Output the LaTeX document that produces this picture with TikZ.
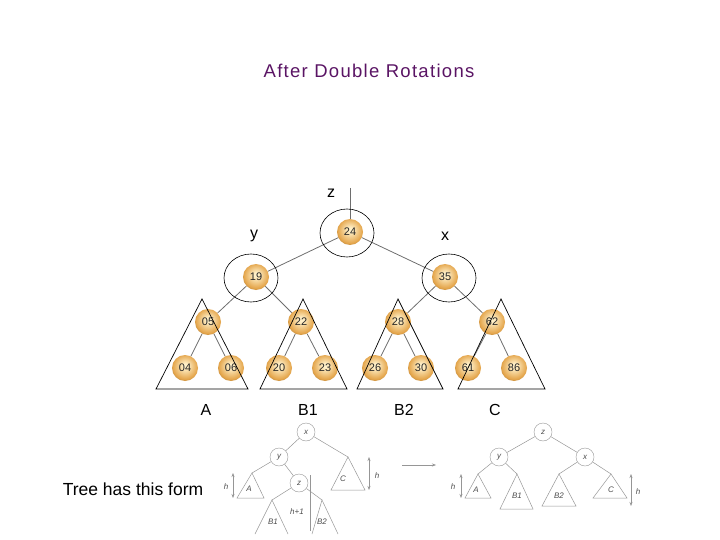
\documentclass[tikz,border=0pt]{standalone}
\usepackage{fontspec}
\setmainfont{Liberation Sans}
\usetikzlibrary{arrows.meta}
\definecolor{titlepurple}{RGB}{90,20,100}
\definecolor{gold}{RGB}{228,165,75}
\definecolor{paleball}{RGB}{255,240,200}
\definecolor{edgegray}{RGB}{110,110,110}
\definecolor{sketchgray}{RGB}{150,150,150}
\pgfdeclareradialshading{goldball}{\pgfpoint{0bp}{5bp}}{%
  color(0bp)=(paleball); color(4bp)=(paleball); color(15bp)=(gold!55!paleball);
  color(24bp)=(gold); color(28bp)=(gold!85!black); color(50bp)=(gold!85!black)}

\tikzset{
  ball/.style={circle, minimum size=26pt, inner sep=0pt, shading=goldball,
    font=\fontsize{11}{11}\selectfont, text=black!85},
  tedge/.style={draw=edgegray, line width=0.8pt},
  ring/.style={draw=black, line width=0.6pt},
  tri/.style={draw=black, line width=0.7pt},
  lbl/.style={font=\fontsize{16}{16}\selectfont},
  snode/.style={circle, draw=sketchgray, minimum size=18pt, inner sep=0pt,
    font=\rmfamily\itshape\fontsize{8}{8}\selectfont, text=black!70},
  sline/.style={draw=sketchgray, line width=0.5pt},
  stext/.style={font=\rmfamily\itshape\fontsize{8}{8}\selectfont, text=black!70},
  harrow/.style={draw=sketchgray, line width=0.5pt, {Stealth[length=4pt,width=3pt]}-{Stealth[length=4pt,width=3pt]}}
}

\begin{document}
\begin{tikzpicture}[x=1pt,y=-1pt]
\useasboundingbox (0,0) rectangle (720,540);

% title
\node[text=titlepurple, font=\fontsize{18.5}{18.5}\selectfont\addfontfeature{LetterSpace=7}] (title) at (369,71) {After Double Rotations};

% main tree
\node[ball] (n24) at (350,232) {24};
\node[ball] (n19) at (256,277) {19};
\node[ball] (n35) at (445,277) {35};
\node[ball] (n05) at (208,322) {05};
\node[ball] (n22) at (301,322) {22};
\node[ball] (n28) at (398,322) {28};
\node[ball] (n62) at (492,322) {62};
\node[ball] (n04) at (185,368) {04};
\node[ball] (n06) at (231,368) {06};
\node[ball] (n20) at (279,368) {20};
\node[ball] (n23) at (325,368) {23};
\node[ball] (n26) at (375,368) {26};
\node[ball] (n30) at (421,368) {30};
\node[ball] (n61) at (468,368) {61};
\node[ball] (n86) at (514,368) {86};
\coordinate (ztop) at (350,188);

\draw[tedge] (ztop) -- (n24);
\draw[tedge] (n24) -- (n19);
\draw[tedge] (n24) -- (n35);
\draw[tedge] (n19) -- (n05);
\draw[tedge] (n19) -- (n22);
\draw[tedge] (n35) -- (n28);
\draw[tedge] (n35) -- (n62);
\draw[tedge] (n05) -- (n04);
\draw[tedge] (n05) -- (n06);
\draw[tedge] (n22) -- (n20);
\draw[tedge] (n22) -- (n23);
\draw[tedge] (n28) -- (n26);
\draw[tedge] (n28) -- (n30);
\draw[tedge] (n62) -- (n61);
\draw[tedge] (n62) -- (n86);

% rings round z, y, x
\draw[ring] (347,233) ellipse (27 and 24);
\draw[ring] (251,278) ellipse (27 and 24);
\draw[ring] (449,278) ellipse (27 and 24);

\node[lbl] (lz) at (331,193) {z};
\node[lbl] (ly) at (254,236) {y};
\node[lbl] (lx) at (445,236) {x};

% subtrees
\draw[tri] (202,299) -- (156,389) -- (248,389) -- cycle;
\draw[tri] (303,299) -- (260,389) -- (347,389) -- cycle;
\draw[tri] (398,299) -- (357,389) -- (443,389) -- cycle;
\draw[tri] (501,299) -- (458,389) -- (545,389) -- cycle;

\node[lbl] (lA) at (206,410) {A};
\node[lbl] (lB1) at (308,410) {B1};
\node[lbl] (lB2) at (404,410) {B2};
\node[lbl] (lC) at (495,410) {C};

\node[font=\fontsize{17.5}{17.5}\selectfont] (form) at (133,489) {Tree has this form};

% sketch before rotation
\node[snode] (sx) at (306,432) {x};
\node[snode] (sy) at (279,457) {y};
\node[snode] (sz) at (299,483) {z};
\coordinate (sA) at (252,473);
\coordinate (sC) at (348,457);
\coordinate (sB1) at (272,500);
\coordinate (sB2) at (322,500);
\draw[sline] (sx) -- (sy);
\draw[sline] (sx) -- (sC);
\draw[sline] (sy) -- (sA);
\draw[sline] (sy) -- (sz);
\draw[sline] (sz) -- (sB1);
\draw[sline] (sz) -- (sB2);
\draw[sline] (sA) -- (237,498) -- (264,498) -- cycle;
\draw[sline] (sC) -- (331,490) -- (365,490) -- cycle;
\draw[sline] (255,534) -- (sB1) -- (288,534);
\draw[sline] (312,534) -- (sB2) -- (338,534);
\node[stext] (tA) at (249,489) {A};
\node[stext] (tC) at (343,479) {C};
\node[stext] (tB1) at (273,522) {B1};
\node[stext] (tB2) at (322,522) {B2};
\draw[harrow] (233,473) -- (233,498);
\node[stext] (h1) at (226,487) {h};
\draw[harrow] (369,457) -- (369,490);
\node[stext] (h2) at (377,476) {h};
\draw[sline] (310,475) -- (310,531);
\node[stext] (h3) at (297,512) {h+1};

% arrow between sketches
\coordinate (ra) at (402,465);
\coordinate (rb) at (436,465);
\draw[sline, -{Stealth[length=4pt,width=3pt]}] (ra) -- (rb);

% sketch after rotation
\node[snode] (rz) at (543,432) {z};
\node[snode] (ry) at (499,457) {y};
\node[snode] (rx) at (585,457) {x};
\coordinate (rA) at (478,474);
\coordinate (rB1) at (517,474);
\coordinate (rB2) at (559,474);
\coordinate (rC) at (611,474);
\draw[sline] (rz) -- (ry);
\draw[sline] (rz) -- (rx);
\draw[sline] (ry) -- (rA);
\draw[sline] (ry) -- (rB1);
\draw[sline] (rx) -- (rB2);
\draw[sline] (rx) -- (rC);
\draw[sline] (rA) -- (465,498) -- (491,498) -- cycle;
\draw[sline] (rB1) -- (500,509) -- (533,509) -- cycle;
\draw[sline] (rB2) -- (542,506) -- (576,506) -- cycle;
\draw[sline] (rC) -- (593,498) -- (627,498) -- cycle;
\node[stext] (uA) at (476,490) {A};
\node[stext] (uB1) at (517,496) {B1};
\node[stext] (uB2) at (559,496) {B2};
\node[stext] (uC) at (611,490) {C};
\draw[harrow] (461,474) -- (461,498);
\node[stext] (h4) at (453,487) {h};
\draw[harrow] (631,474) -- (631,506);
\node[stext] (h5) at (638,492) {h};
\end{tikzpicture}
\end{document}
